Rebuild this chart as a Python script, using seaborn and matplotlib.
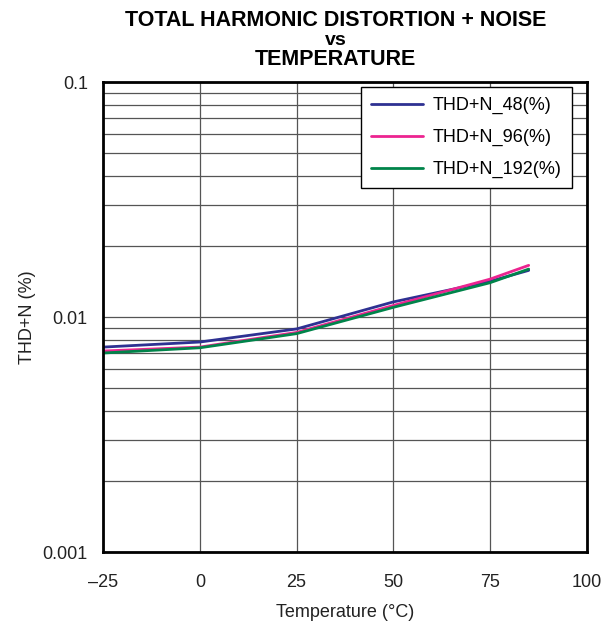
import numpy as np
import pandas as pd
import seaborn as sns
import matplotlib.pyplot as plt
from matplotlib.ticker import FixedLocator, FixedFormatter, NullFormatter

temps = [-25, 0, 25, 50, 75, 85]
thd_48 = [0.00745, 0.00783, 0.0089, 0.0116, 0.0142, 0.0158]
thd_96 = [0.00717, 0.00745, 0.0086, 0.0112, 0.0145, 0.0166]
thd_192 = [0.00703, 0.0074, 0.0085, 0.0110, 0.0140, 0.0160]
labels = ['THD+N_48(%)', 'THD+N_96(%)', 'THD+N_192(%)']
colors = ['#2e3192', '#ec2490', '#00844a']

df = pd.DataFrame({'temp': temps * 3,
                   'thd': thd_48 + thd_96 + thd_192,
                   'series': [labels[0]] * 6 + [labels[1]] * 6 + [labels[2]] * 6})

sns.set_style('white')
plt.rcParams['font.family'] = ['Liberation Sans', 'DejaVu Sans']
plt.rcParams['text.color'] = 'black'
plt.rcParams['axes.labelcolor'] = '#222222'
plt.rcParams['xtick.color'] = '#222222'
plt.rcParams['ytick.color'] = '#222222'

fig = plt.figure(figsize=(6.03, 6.22), dpi=100)
ax = fig.add_axes([0.171, 0.1125, 0.802, 0.7555])
sns.lineplot(data=df, x='temp', y='thd', hue='series', palette=colors, ax=ax, linewidth=2.0)

ax.set_yscale('log')
ax.set_xlim(-25, 100)
ax.set_ylim(0.001, 0.1)
ax.xaxis.set_major_locator(FixedLocator([-25, 0, 25, 50, 75, 100]))
ax.xaxis.set_major_formatter(FixedFormatter(['\u201325', '0', '25', '50', '75', '100']))
ax.yaxis.set_major_locator(FixedLocator([0.001, 0.01, 0.1]))
ax.yaxis.set_major_formatter(FixedFormatter(['0.001', '0.01', '0.1']))
minors = [m * d for d in [0.001, 0.01] for m in range(2, 10)]
ax.yaxis.set_minor_locator(FixedLocator(minors))
ax.yaxis.set_minor_formatter(NullFormatter())
ax.grid(True, which='major', color='#555555', linewidth=0.9)
ax.grid(True, which='minor', axis='y', color='#555555', linewidth=0.9)
ax.tick_params(axis='both', which='major', labelsize=13, length=0)
ax.tick_params(axis='x', which='major', pad=16)
ax.tick_params(axis='y', which='major', pad=11)
ax.tick_params(axis='y', which='minor', length=0)
for s in ax.spines.values():
    s.set_color('black')
    s.set_linewidth(2)

ax.set_xlabel('Temperature (\u00b0C)', fontsize=13, labelpad=9)
ax.set_ylabel('THD+N (%)', fontsize=13, labelpad=5)

leg = ax.legend(title=None, loc='upper right', bbox_to_anchor=(0.969, 0.989), fontsize=13,
                frameon=True, fancybox=False, edgecolor='black', framealpha=1,
                borderaxespad=0, borderpad=0.55, handlelength=2.9, handletextpad=0.55,
                labelspacing=0.82)
leg.get_frame().set_linewidth(1.0)

fig.text(0.557, 0.9582, 'TOTAL HARMONIC DISTORTION + NOISE', ha='center', va='baseline',
         fontsize=15.5, fontweight='bold')
fig.text(0.557, 0.9277, 'vs', ha='center', va='baseline', fontsize=14, fontweight='bold')
fig.text(0.557, 0.8955, 'TEMPERATURE', ha='center', va='baseline', fontsize=15.5, fontweight='bold')

fig.savefig('out.png', dpi=100)
